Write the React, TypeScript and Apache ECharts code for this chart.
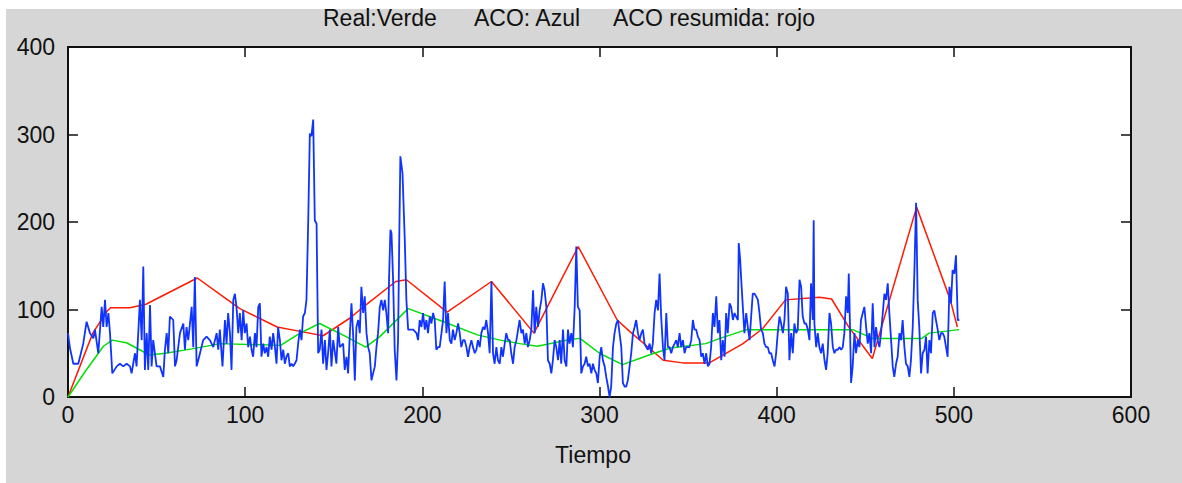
import React, { useEffect, useRef } from "react";
import * as echarts from "echarts";

const titleParts = ["Real:Verde", "ACO: Azul", "ACO resumida: rojo"];
const xLabel = "Tiempo";
const xTicks = { min: 0, max: 600, interval: 100 };
const yTicks = { min: 0, max: 400, interval: 100 };

// Real (green)
const real: [number, number][] = [
  [0, 0], [10, 30], [20, 58], [25, 65], [33, 62], [46, 48], [55, 50], [70, 55], [86, 61], [120, 59],
  [131, 73], [142, 84], [157, 69], [168, 57], [176, 69], [192, 101], [212, 86], [231, 71], [244, 65],
  [255, 61], [265, 58], [284, 66], [289, 67], [300, 50], [313, 37], [328, 48], [340, 56], [360, 61],
  [368, 67], [383, 77], [443, 77], [454, 67], [482, 67], [486, 73], [503, 77],
];

// ACO resumida (red)
const acoResumida: [number, number][] = [
  [0, 0], [14, 73], [22, 98], [24, 102], [35, 102], [44, 106], [73, 136], [86, 117], [97, 101],
  [118, 80], [131, 75], [144, 70], [159, 90], [168, 105], [185, 132], [191, 134], [214, 97],
  [239, 132], [263, 73], [288, 172], [310, 88], [317, 75], [328, 56], [336, 42], [347, 39],
  [362, 39], [381, 61], [392, 78], [405, 111], [424, 114], [431, 112], [441, 79], [454, 44],
  [479, 217], [498, 111], [502, 80],
];

// ACO (blue)
const aco: [number, number][] = [
  [0,73],[1.1,56],[3,38],[5.8,38],[6.8,46],[8.6,61],[10.5,86],[12.4,73],[14.3,67],[15.2,77],[17.1,50],[19,103],[19.9,80],[20.9,111],[21.8,80],[22.8,96],[23.7,73],[25,27],[27.5,35],[29.3,38],[31.2,35],[33.1,38],[35,35],[35.9,27],[37.8,50],[38.7,35],[40.6,111],[41.6,65],[42.5,149],[43.4,31],[44.4,73],[45.3,31],[46.3,105],[47.2,35],[48.1,65],[50,35],[51.9,35],[53.8,23],[54.7,54],[55.7,73],[56.6,50],[57.5,92],[59.4,88],[60.4,35],[61.3,42],[63.2,73],[65.1,84],[66,54],[66.9,80],[67.9,65],[69.8,103],[70.7,57],[71.6,137],[72.6,35],[73.5,42],[74.5,50],[76.3,65],[78.2,69],[80.1,65],
  [82,57],[83.9,73],[84.8,54],[85.7,77],[87.2,35],[88.6,88],[89.5,61],[90.4,96],[91.4,73],[92.3,31],[93.3,111],[94.2,118],[95.1,103],[96.1,73],[97,96],[98,65],[98.9,99],[99.8,73],[100.8,84],[101.7,57],[102.7,69],[103.6,54],[104.5,46],[105.5,73],[106.4,57],[107.4,103],[108.3,107],[109.2,46],[110.2,61],[111.1,50],[112.1,57],[113,46],[113.9,69],[114.9,54],[115.8,73],[116.8,57],[117.7,38],[118.6,80],[119.6,65],[120.5,42],[121.5,54],[122.4,38],[123.3,46],[124.3,50],[125.2,35],[126.2,38],[127.1,35],[128,38],[129,42],[129.9,61],[130.9,77],[131.8,65],[132.7,92],[133.7,96],[134.6,111],[135.6,202],[136.5,301],[137.4,298],[138.4,317],[139.3,202],[140.3,198],[141.2,50],[142.1,54],[143.1,77],[144,38],[145,65],[145.9,31],[146.8,50],[147.8,77],[148.7,35],[149.7,65],[151.5,38],[152.5,80],[153.4,57],[155.3,61],[156.2,31],[157.2,46],[158.1,27],[159.1,73],[160,107],[160.9,73],[161.9,19],[162.8,80],[163.8,88],
  [164.7,73],[165.6,126],[166.6,96],[167.5,115],[168.5,73],[169.4,57],[170.3,50],[171.3,19],[172.2,27],[173.2,35],[174.1,57],[175,73],[176,103],[176.9,111],[177.9,99],[178.8,111],[179.7,96],[180.7,73],[181.2,134],[182,191],[182.6,187],[183.5,134],[184.4,54],[185.4,19],[186.3,65],[186.9,168],[187.6,275],[188.8,256],[190.1,179],[191,111],[192,77],[192.9,77],[194.8,77],[196.7,73],[197.6,65],[198.5,88],[199.5,80],[200.4,96],[201.4,77],[202.3,88],[203.2,73],[204.2,92],[205.1,84],[206.1,96],[207,88],[207.9,54],[208.9,57],[209.8,57],[210.8,73],[211.7,88],[212.6,132],[213.6,73],[214.5,96],[215.5,65],[216.4,61],[217.3,77],[218.3,65],[219.2,73],[220.2,84],[221.1,73],[222,57],[223,65],[223.9,65],[224.9,57],[225.8,46],[226.7,57],[227.7,65],[228.6,57],[229.6,50],[230.5,54],[231.4,65],[232.4,57],[233.3,73],[234.3,80],[235.2,77],[236.1,88],[237.1,73],[238,50],[239,132],[239.9,50],[240.8,38],[241.8,57],[242.7,42],[243.7,38],[244.6,57],[245.5,46],[246.5,61],[247.4,73],[248.4,65],
  [249.3,65],[250.2,50],[251.2,38],[252.1,57],[253.1,65],[254.9,88],[255.9,73],[256.8,77],[257.8,61],[258.7,73],[259.6,57],[260.6,65],[261.5,77],[262.5,122],[263.4,73],[264.3,103],[265.3,80],[266.2,99],[267.2,111],[268.1,130],[269,122],[270,103],[270.9,42],[271.9,38],[272.8,27],[273.7,42],[274.7,65],[275.6,57],[276.6,42],[277.5,65],[278.4,38],[279.4,77],[280.3,42],[281.3,35],[282.2,77],[283.1,61],[284.1,73],[285,57],[286,103],[286.9,172],[287.8,103],[288.8,99],[289.7,27],[290.7,35],[291.6,38],[292.5,46],[293.5,35],[294.4,38],[295.4,27],[296.3,38],[297.2,31],[298.2,27],[299.1,16],[300.1,46],[301,57],[301.9,42],[302.9,35],[303.8,23],[304.8,12],[305.7,0],[306.6,12],[307.6,57],[308.5,73],[309.5,84],[310.4,88],[311.3,73],[312.3,57],[313.2,16],[314.2,12],[315.1,12],[316,19],[317,35],[317.9,50],[318.9,73],[319.8,80],[320.7,88],[321.7,73],[322.6,65],[323.6,73],[324.5,77],[325.4,61],[326.4,57],[327.3,54],[328.3,61],[329.2,50],[330.1,61],[331.1,96],[332,111],[333,99],[333.9,141],
  [334.8,92],[335.8,57],[336.7,42],[337.7,96],[338.6,57],[339.5,57],[340.5,50],[341.4,57],[342.4,61],[343.3,65],[344.2,57],[345.2,73],[346.1,57],[347.1,65],[348,50],[348.9,57],[349.9,57],[350.8,57],[351.8,65],[352.7,88],[353.6,77],[354.6,77],[355.5,69],[356.5,65],[357.4,46],[358.3,50],[359.3,38],[360.2,50],[361.2,35],[362.1,38],[363,57],[364,96],[364.9,80],[365.9,115],[366.8,73],[367.7,88],[368.7,42],[369.6,65],[370.6,46],[371.5,96],[372.4,73],[373.4,107],[374.3,103],[375.3,88],[376.2,96],[377.1,92],[378.1,88],[378.6,176],[379.4,157],[380,134],[380.9,103],[381.8,73],[382.8,96],[383.7,80],[384.7,65],[385.6,92],[386.5,118],[387.5,118],[388.4,115],[389.4,111],[390.3,96],[391.2,77],[392.2,73],[393.1,61],[394.1,57],[395,57],[395.9,50],[396.9,50],[397.8,42],[398.8,35],[399.7,50],[400.6,73],[401.6,92],[402.5,84],[403.5,73],[404.4,88],[405.3,126],[406.3,118],[407.2,42],[408.2,73],[409.1,50],[410,84],[411,73],[411.9,77],[412.9,134],[413.8,126],[414.7,92],[415.7,84],[416.6,84],[417.6,77],[418.5,65],
  [419.4,130],[420.4,88],[420.9,202],[421.3,84],[422.3,57],[423.2,73],[424.1,57],[425.1,50],[426,61],[427,42],[427.9,31],[428.8,50],[429.8,96],[430.7,84],[431.7,57],[432.6,50],[433.5,54],[434.5,54],[435.4,57],[436.4,54],[437.3,57],[438.2,73],[439.2,115],[440.1,96],[440.7,141],[441.4,80],[442,16],[442.9,35],[443.9,73],[444.8,50],[445.8,65],[446.7,57],[447.6,88],[448.6,96],[449.5,103],[450.5,80],[451.4,61],[452.3,73],[453.3,50],[454.2,107],[455.2,57],[456.1,80],[457,65],[458,57],[458.9,73],[459.9,96],[460.8,118],[461.7,111],[462.7,130],[463.6,96],[464.6,65],[465.5,35],[466.4,23],[467.4,38],[468.3,46],[469.3,73],[470.2,65],[471.1,88],[472.1,57],[473,38],[474,35],[474.9,23],[475.8,42],[476.8,80],[477.7,141],[478.7,222],[479.6,111],[480.5,80],[481.5,27],[482.4,50],[483.4,54],[484.3,69],[485.2,27],[486.2,65],[487.1,50],[488.1,96],[489,99],[489.9,88],[490.9,77],[491.8,65],[492.8,73],[493.7,73],[494.6,69],[495.6,57],[496.5,46],[497.5,126],[498.4,107],[499.3,145],[500.3,141],[501.2,162],[502.2,88],[503.1,88],
];

const FONT = "'Liberation Sans', Arial, Helvetica, sans-serif";

export default function App() {
  const ref = useRef<HTMLDivElement>(null);
  useEffect(() => {
    if (!ref.current) return;
    const chart = echarts.init(ref.current, null, { renderer: "svg" });
    const axisLine = { show: true, onZero: false, lineStyle: { color: "#111", width: 2 } };
    const tick = { show: true, inside: true, length: 10, lineStyle: { color: "#111", width: 1.5 } };
    const labelStyle = { color: "#111", fontSize: 23, fontFamily: FONT };
    const titleStyle = { fontSize: 23, fontFamily: FONT, fill: "#111" };
    chart.setOption({
      animation: false,
      backgroundColor: "#ffffff",
      grid: {
        left: 68, right: 51, top: 47, bottom: 86,
        show: true, backgroundColor: "#ffffff", borderWidth: 0,
      },
      graphic: [
        { type: "rect", z: -100, silent: true, shape: { x: 6, y: 9, width: 1176, height: 474 }, style: { fill: "#d6d6d6" } },
        { type: "text", left: 323, top: 6, style: { text: titleParts[0], ...titleStyle } },
        { type: "text", left: 474, top: 6, style: { text: titleParts[1], ...titleStyle } },
        { type: "text", left: 613, top: 6, style: { text: titleParts[2], ...titleStyle } },
        { type: "text", x: 593, y: 455, style: { text: xLabel, fontSize: 23, fontFamily: FONT, fill: "#111", align: "center", verticalAlign: "middle" } },
      ],
      xAxis: [
        {
          type: "value", position: "bottom", ...xTicks,
          axisLine, axisTick: tick, splitLine: { show: false },
          axisLabel: { ...labelStyle, margin: 6 },
        },
        {
          type: "value", position: "top", ...xTicks,
          axisLine, axisTick: tick, splitLine: { show: false }, axisLabel: { show: false },
        },
      ],
      yAxis: [
        {
          type: "value", position: "left", ...yTicks,
          axisLine, axisTick: tick, splitLine: { show: false },
          axisLabel: { ...labelStyle, margin: 13 },
        },
        {
          type: "value", position: "right", ...yTicks,
          axisLine, axisTick: tick, splitLine: { show: false }, axisLabel: { show: false },
        },
      ],
      series: [
        { type: "line", data: acoResumida, showSymbol: false, lineStyle: { color: "#ff1a00", width: 1.5 }, itemStyle: { color: "#ff1a00" } },
        { type: "line", data: real, showSymbol: false, lineStyle: { color: "#00e000", width: 1.5 }, itemStyle: { color: "#00e000" } },
        { type: "line", data: aco, showSymbol: false, lineStyle: { color: "#1034ff", width: 1.8 }, itemStyle: { color: "#1034ff" } },
      ],
    });
    return () => chart.dispose();
  }, []);
  return <div ref={ref} style={{ position: "absolute", left: 0, top: 0, width: 1182, height: 483 }} />;
}
